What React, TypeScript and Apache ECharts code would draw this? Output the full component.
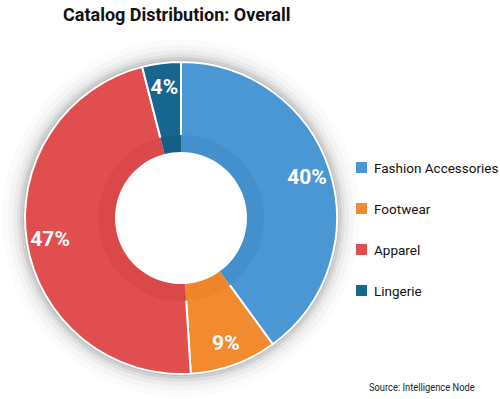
import React, { useEffect, useRef } from "react";
import * as echarts from "echarts";

const categories = ["Fashion Accessories", "Footwear", "Apparel", "Lingerie"];
const shares = [40, 9, 47, 4];
const outerColors = ["#4A97D3", "#F28B30", "#E14E50", "#17668F"];
const innerColors = ["#4390CD", "#EE852B", "#DB484A", "#145F86"];
const titleText = "Catalog Distribution: Overall";
const sourceText = "Source: Intelligence Node";

// soft halo rings around the donut: [inner radius, outer radius, opacity]
const haloRings: [number, number, number][] = [
  [155, 158, 0.27],
  [158, 161, 0.19],
  [161, 164, 0.12],
  [164, 168, 0.075],
  [168, 173, 0.04],
  [173, 179, 0.016],
];

const FONT = "Roboto, 'Liberation Sans', Arial, sans-serif";

export default function App() {
  const ref = useRef<HTMLDivElement>(null);
  useEffect(() => {
    document.body.style.margin = "0";
    const chart = echarts.init(ref.current!, null, { renderer: "svg" });
    const center = [181, 218];
    const outerData = categories.map((name, i) => ({
      name,
      value: shares[i],
      itemStyle: { color: outerColors[i] },
    }));
    const innerData = categories.map((name, i) => ({
      name,
      value: shares[i],
      itemStyle: { color: innerColors[i] },
    }));
    const haloSeries = haloRings.map(([r0, r1, a], k) => ({
      type: "pie",
      name: "halo" + k,
      center,
      radius: [r0, r1],
      silent: true,
      legendHoverLink: false,
      data: [{ name: "halo" + k, value: 1, itemStyle: { color: `rgba(0,0,0,${a})` } }],
      label: { show: false },
      labelLine: { show: false },
      z: 0,
    }));
    chart.setOption({
      animation: false,
      title: {
        text: titleText,
        left: 58,
        top: 0,
        textStyle: { fontFamily: FONT, fontWeight: "bold", fontSize: 18, color: "#111" },
      },
      legend: {
        orient: "vertical",
        left: 349,
        top: 155,
        itemWidth: 13,
        itemHeight: 13,
        itemGap: 26,
        icon: "rect",
        data: categories,
        textStyle: { fontFamily: FONT, fontSize: 13.5, color: "#111", padding: [0, 0, 0, 1] },
      },
      graphic: [
        {
          type: "text",
          x: 369,
          y: 382,
          scaleX: 0.85,
          style: { text: sourceText, font: `11px ${FONT}`, fill: "#222" },
        },
      ],
      series: [
        ...haloSeries,
        {
          type: "pie",
          center,
          radius: [80, 156],
          startAngle: 90,
          clockwise: true,
          silent: true,
          data: outerData,
          itemStyle: {
            borderColor: "#fff",
            borderWidth: 2,
          },
          label: { show: false },
          labelLine: { show: false },
          z: 1,
        },
        {
          type: "pie",
          center,
          radius: [104, 155],
          startAngle: 90,
          clockwise: true,
          silent: true,
          data: categories.map((name, i) => ({ name, value: shares[i] })),
          itemStyle: { color: "transparent" },
          label: {
            show: true,
            position: "inside",
            formatter: "{c}%",
            color: "#fff",
            fontFamily: FONT,
            fontWeight: "bold",
            fontSize: 21,
          },
          labelLine: { show: false },
          legendHoverLink: false,
          z: 5,
        },
        {
          type: "pie",
          center,
          radius: [64, 83],
          startAngle: 90,
          clockwise: true,
          silent: true,
          data: innerData,
          label: { show: false },
          labelLine: { show: false },
          z: 2,
        },
        {
          type: "pie",
          center,
          radius: [0, 66],
          silent: true,
          data: [{ name: "center", value: 1, itemStyle: { color: "#fff" } }],
          label: { show: false },
          labelLine: { show: false },
          z: 3,
        },
      ],
    });
    return () => chart.dispose();
  }, []);
  return <div ref={ref} style={{ width: 500, height: 399 }} />;
}
